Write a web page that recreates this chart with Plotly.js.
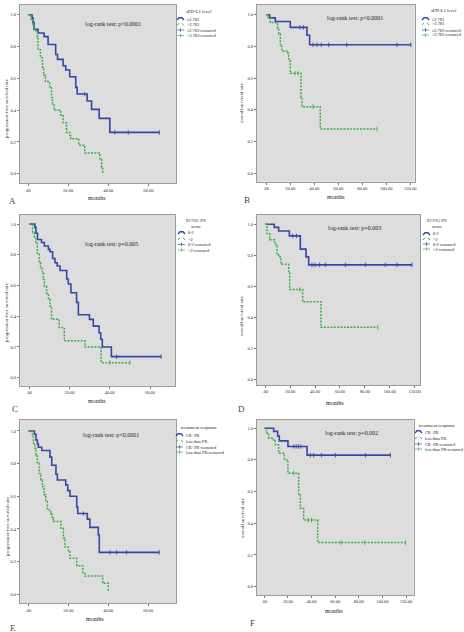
<!DOCTYPE html>
<html>
<head>
<meta charset="utf-8">
<script src="https://cdn.plot.ly/plotly-3.0.1.min.js"></script>
<style>
  html, body { margin: 0; padding: 0; background: #ffffff; }
  #chart { width: 464px; height: 632px; }
</style>
</head>
<body>
<div id="chart"></div>
<script>
// ---- Kaplan-Meier estimates (months, survival after each event) ----

// A: progression-free survival by sPD-L1 level
const pfsPdl1LowTime   = [2.0, 2.5, 3.0, 5.0, 8.0, 10.0, 13.8, 14.7, 17.5, 18.8, 20.8, 23.8, 24.5, 29.5, 31.7, 35.5, 40.8];
const pfsPdl1LowSurv   = [0.981, 0.950, 0.908, 0.885, 0.862, 0.813, 0.750, 0.719, 0.679, 0.652, 0.610, 0.543, 0.501, 0.457, 0.405, 0.348, 0.260];
const pfsPdl1LowCensor = [28.3, 43.3, 50.0, 65.5];
const pfsPdl1HighTime  = [1.5, 2.5, 3.0, 4.0, 4.7, 5.0, 6.2, 7.2, 7.8, 8.7, 10.8, 11.7, 12.2, 13.0, 16.3, 17.5, 19.2, 20.8, 21.3, 25.3, 28.3, 35.8, 36.7, 37.2];
const pfsPdl1HighSurv  = [0.97, 0.94, 0.91, 0.89, 0.86, 0.78, 0.73, 0.67, 0.62, 0.58, 0.54, 0.48, 0.44, 0.40, 0.37, 0.32, 0.26, 0.24, 0.22, 0.18, 0.13, 0.09, 0.04, 0.0];
const pfsPdl1HighCensor = [];

// B: overall survival by sPD-L1 level
const osPdl1LowTime    = [2.8, 7.5, 20.0, 33.9, 36.1];
const osPdl1LowSurv    = [0.98, 0.957, 0.92, 0.87, 0.81];
const osPdl1LowCensor  = [28.0, 31.0, 38.9, 42.2, 45.8, 52.0, 67.0, 109.0, 120.5];
const osPdl1HighTime   = [1.4, 3.3, 9.4, 10.3, 11.7, 13.0, 17.2, 18.6, 20.0, 28.9, 29.7, 45.0];
const osPdl1HighSurv   = [0.977, 0.95, 0.915, 0.88, 0.80, 0.77, 0.757, 0.72, 0.63, 0.48, 0.42, 0.28];
const osPdl1HighCensor = [24.0, 26.5, 39.0, 92.2];

// C: progression-free survival by ECOG PS score
const pfsEcogLowTime   = [2.8, 3.3, 4.1, 6.1, 7.5, 9.5, 10.3, 11.6, 12.8, 13.9, 15.3, 18.6, 19.4, 20.7, 23.5, 24.4, 29.9, 31.8, 34.7, 35.5, 36.3, 40.8];
const pfsEcogLowSurv   = [0.98, 0.94, 0.90, 0.88, 0.857, 0.835, 0.82, 0.776, 0.748, 0.727, 0.698, 0.642, 0.61, 0.553, 0.49, 0.41, 0.38, 0.336, 0.293, 0.25, 0.20, 0.137];
const pfsEcogLowCensor = [43.4, 65.5];
const pfsEcogHighTime  = [1.7, 2.5, 3.2, 4.0, 5.0, 5.6, 6.5, 7.0, 7.5, 8.6, 9.5, 10.3, 11.1, 14.9, 17.4, 27.7, 35.7];
const pfsEcogHighSurv  = [0.945, 0.91, 0.874, 0.81, 0.75, 0.71, 0.68, 0.64, 0.593, 0.55, 0.51, 0.465, 0.38, 0.327, 0.24, 0.20, 0.098];
const pfsEcogHighCensor = [40.0, 50.0];

// D: overall survival by ECOG PS score
const osEcogLowTime    = [7.2, 10.7, 19.3, 28.1, 32.7, 34.8];
const osEcogLowSurv    = [0.98, 0.957, 0.925, 0.84, 0.79, 0.738];
const osEcogLowCensor  = [22.0, 25.0, 37.5, 40.0, 43.4, 48.2, 64.3, 80.4, 96.4, 105.8, 117.9];
const osEcogHighTime   = [1.3, 3.5, 7.5, 9.4, 10.7, 12.6, 18.8, 19.6, 30.0, 44.7];
const osEcogHighSurv   = [0.94, 0.90, 0.87, 0.81, 0.79, 0.742, 0.688, 0.58, 0.50, 0.335];
const osEcogHighCensor = [27.5, 90.3];

// E: progression-free survival by treatment response
const pfsRespGoodTime   = [3.0, 3.8, 4.5, 5.0, 6.7, 10.8, 11.7, 13.8, 14.5, 18.7, 19.7, 20.8, 24.2, 24.7, 29.5, 30.8, 35.0, 35.5];
const pfsRespGoodSurv   = [0.98, 0.945, 0.92, 0.90, 0.88, 0.84, 0.79, 0.735, 0.70, 0.67, 0.635, 0.60, 0.535, 0.495, 0.46, 0.41, 0.363, 0.257];
const pfsRespGoodCensor = [27.5, 40.8, 44.2, 49.2, 65.5];
const pfsRespPoorTime   = [2.0, 2.5, 3.2, 3.8, 4.5, 5.5, 6.2, 7.0, 7.8, 8.7, 9.5, 11.2, 12.0, 12.5, 16.3, 17.5, 18.3, 20.0, 20.8, 24.2, 27.2, 28.3, 37.2, 40.0];
const pfsRespPoorSurv   = [0.965, 0.925, 0.894, 0.853, 0.80, 0.74, 0.70, 0.66, 0.61, 0.567, 0.516, 0.49, 0.465, 0.445, 0.404, 0.343, 0.29, 0.26, 0.22, 0.175, 0.128, 0.112, 0.067, 0.016];
const pfsRespPoorCensor = [];

// F: overall survival by treatment response
const osRespGoodTime    = [7.9, 11.3, 12.7, 20.0, 36.2];
const osRespGoodSurv    = [0.98, 0.95, 0.92, 0.885, 0.83];
const osRespGoodCensor  = [25.0, 27.0, 29.0, 31.0, 39.0, 41.8, 48.3, 60.2, 85.6, 106.8];
const osRespPoorTime    = [1.7, 3.7, 7.9, 9.3, 12.1, 16.9, 19.2, 20.0, 29.1, 30.5, 33.3, 45.2];
const osRespPoorSurv    = [0.97, 0.937, 0.926, 0.895, 0.842, 0.80, 0.79, 0.716, 0.585, 0.495, 0.42, 0.278];
const osRespPoorCensor  = [25.0, 37.0, 40.0, 65.0, 85.0, 119.5];

// ---- tick labels ----
const monthTicksShort = [0, 20, 40, 60];
const monthLabelsShort = ['.00', '20.00', '40.00', '60.00'];
const monthTicksLong = [0, 20, 40, 60, 80, 100, 120];
const monthLabelsLong = ['.00', '20.00', '40.00', '60.00', '80.00', '100.00', '120.00'];
const survTicks = [0, 0.2, 0.4, 0.6, 0.8, 1.0];
const survLabels = ['0.0', '0.2', '0.4', '0.6', '0.8', '1.0'];

// ---- text ----
const pfsTitle = 'progression-free survival rate';
const osTitle = 'overall survival rate';
const pdl1Groups = ['≤2.783', '>2.783', '≤2.783-censored', '>2.783-censored'];
const ecogGroups = ['0-2', '>2', '0-2-censored', '>2-censored'];
const respGroups = ['CR+PR', 'less than PR', 'CR+PR-censored', 'less than PR-censored'];

// ---- styling & geometry ----
const W = 464, H = 632;
const px = x => x / W;
const py = y => 1 - y / H;
const BLUE = '#3447a6';
const GREEN = '#3fae47';
const GREEN_DASH = '2px,1.3px';
const SERIF = 'Liberation Serif, Times New Roman, serif';

const panels = [
  { letter: 'A', box: [20, 176, 5, 183.3], xr: [-4, 73.8], yr: [-0.06, 1.061], long: false,
    a: [pfsPdl1LowTime, pfsPdl1LowSurv, pfsPdl1LowCensor], b: [pfsPdl1HighTime, pfsPdl1HighSurv, pfsPdl1HighCensor],
    ytitle: pfsTitle, ytPos: [6, 108], xtPos: [97, 198], letterPos: [12, 201],
    pText: 'log-rank test: p<0.0001', pPos: [113, 24],
    legTitle: ['sPD-L1 level'], legTitlePos: [199, 12], groups: pdl1Groups, legX: 177, legY: [19, 24.5, 30, 35.5] },
  { letter: 'B', box: [257, 414.7, 5, 181.7], xr: [-7.75, 123.7], yr: [-0.053, 1.061], long: true,
    a: [osPdl1LowTime, osPdl1LowSurv, osPdl1LowCensor], b: [osPdl1HighTime, osPdl1HighSurv, osPdl1HighCensor],
    ytitle: osTitle, ytPos: [242, 103], xtPos: [336, 197], letterPos: [247, 200],
    pText: 'log-rank test: p<0.0001', pPos: [355, 18],
    legTitle: ['sPD-L1 level'], legTitlePos: [444, 11], groups: pdl1Groups, legX: 422, legY: [19, 24, 30, 35] },
  { letter: 'C', box: [20, 175, 215, 385.7], xr: [-4.6, 72.4], yr: [-0.052, 1.059], long: false,
    a: [pfsEcogLowTime, pfsEcogLowSurv, pfsEcogLowCensor], b: [pfsEcogHighTime, pfsEcogHighSurv, pfsEcogHighCensor],
    ytitle: pfsTitle, ytPos: [6, 312], xtPos: [97, 401], letterPos: [15, 409],
    pText: 'log-rank test: p=0.005', pPos: [111, 244],
    legTitle: ['ECOG PS', 'score'], legTitlePos: [196, 221], groups: ecogGroups, legX: 178, legY: [233, 239, 244.5, 250] },
  { letter: 'D', box: [257, 420, 215, 385], xr: [-6.7, 124.3], yr: [-0.037, 1.06], long: true,
    a: [osEcogLowTime, osEcogLowSurv, osEcogLowCensor], b: [osEcogHighTime, osEcogHighSurv, osEcogHighCensor],
    ytitle: osTitle, ytPos: [241, 316], xtPos: [335, 403], letterPos: [241, 409],
    pText: 'log-rank test: p=0.003', pPos: [354, 228],
    legTitle: ['ECOG PS', 'score'], legTitlePos: [437, 221], groups: ecogGroups, legX: 423, legY: [234, 239, 244, 249] },
  { letter: 'E', box: [20, 176, 420, 603.3], xr: [-4.2, 73.9], yr: [-0.055, 1.067], long: false,
    a: [pfsRespGoodTime, pfsRespGoodSurv, pfsRespGoodCensor], b: [pfsRespPoorTime, pfsRespPoorSurv, pfsRespPoorCensor],
    ytitle: pfsTitle, ytPos: [7, 526], xtPos: [95, 619], letterPos: [13, 628],
    pText: 'log-rank test: p<0.0001', pPos: [111, 435],
    legTitle: ['treatment response'], legTitlePos: [199, 428], groups: respGroups, legX: 176, legY: [435, 441, 447, 452] },
  { letter: 'F', box: [257, 413.7, 420, 595], xr: [-6.2, 126.5], yr: [-0.053, 1.052], long: true,
    a: [osRespGoodTime, osRespGoodSurv, osRespGoodCensor], b: [osRespPoorTime, osRespPoorSurv, osRespPoorCensor],
    ytitle: osTitle, ytPos: [242, 518], xtPos: [334, 611], letterPos: [253, 623],
    pText: 'log-rank test: p=0.002', pPos: [351, 433],
    legTitle: ['treatment response'], legTitlePos: [437, 425], groups: respGroups, legX: 415, legY: [432, 438, 444, 449] }
];

function survivalAt(times, surv, t) {
  let v = 1;
  for (let i = 0; i < times.length; i++) if (times[i] <= t) v = surv[i];
  return v;
}

function kmTraces(series, color, dash, xa, ya) {
  const [times, surv, cens] = series;
  const x = [0].concat(times);
  const y = [1].concat(surv);
  const lastCens = cens.length ? Math.max(...cens) : -Infinity;
  if (lastCens > times[times.length - 1]) { x.push(lastCens); y.push(surv[surv.length - 1]); }
  const out = [{
    type: 'scatter', mode: 'lines', x, y, xaxis: xa, yaxis: ya, hoverinfo: 'skip',
    line: { shape: 'hv', color, width: dash === 'solid' ? 1.6 : 1.5, dash }, showlegend: false
  }];
  if (cens.length) {
    out.push({
      type: 'scatter', mode: 'markers', x: cens, y: cens.map(c => survivalAt(times, surv, c)),
      xaxis: xa, yaxis: ya, hoverinfo: 'skip', showlegend: false,
      marker: { symbol: 'line-ns-open', size: 3.2, color, line: { color, width: 0.9 } }
    });
  }
  return out;
}

const traces = [];
const layout = {
  width: W, height: H, autosize: false,
  margin: { l: 0, r: 0, t: 0, b: 0 },
  paper_bgcolor: '#ffffff', showlegend: false,
  annotations: [], shapes: []
};

function note(text, x, y, size, opts) {
  layout.annotations.push(Object.assign({
    text, x: px(x), y: py(y), xref: 'paper', yref: 'paper', showarrow: false,
    xanchor: 'center', yanchor: 'middle', font: { family: SERIF, size, color: '#222' }
  }, opts || {}));
}

panels.forEach((p, i) => {
  const n = i + 1;
  const xa = 'x' + (n === 1 ? '' : n), ya = 'y' + (n === 1 ? '' : n);
  const xkey = 'xaxis' + (n === 1 ? '' : n), ykey = 'yaxis' + (n === 1 ? '' : n);
  const [x0, x1, yt, yb] = p.box;
  const common = {
    showline: true, mirror: true, linecolor: '#9c9c9c', linewidth: 1,
    ticks: 'outside', ticklen: 2, tickwidth: 0.8, tickcolor: '#555',
    showgrid: false, zeroline: false, fixedrange: true,
    tickfont: { family: SERIF, size: 4.5, color: '#333' }
  };
  layout[xkey] = Object.assign({}, common, {
    domain: [px(x0), px(x1)], range: p.xr, anchor: ya,
    tickvals: p.long ? monthTicksLong : monthTicksShort,
    ticktext: p.long ? monthLabelsLong : monthLabelsShort
  });
  layout[ykey] = Object.assign({}, common, {
    domain: [py(yb), py(yt)], range: p.yr, anchor: xa,
    tickvals: survTicks, ticktext: survLabels
  });
  // grey plotting area
  layout.shapes.push({ type: 'rect', xref: 'paper', yref: 'paper', layer: 'below',
    x0: px(x0), x1: px(x1), y0: py(yb), y1: py(yt), fillcolor: '#dddddd', line: { width: 0 } });

  traces.push(...kmTraces(p.a, BLUE, 'solid', xa, ya));
  traces.push(...kmTraces(p.b, GREEN, GREEN_DASH, xa, ya));

  note(p.ytitle, p.ytPos[0], p.ytPos[1], 5, { textangle: -90 });
  note('months', p.xtPos[0], p.xtPos[1], 6);
  note(p.letter, p.letterPos[0], p.letterPos[1], 9, { font: { family: SERIF, size: 9, color: '#444' } });
  note(p.pText, p.pPos[0], p.pPos[1], 6);

  // legend block
  p.legTitle.forEach((t, k) => note(t, p.legTitlePos[0], p.legTitlePos[1] + k * 5.5, 4.8));
  p.groups.forEach((g, k) => {
    const y = p.legY[k];
    const gx = p.legX;
    const color = k % 2 === 0 ? BLUE : GREEN;
    if (k < 2) {
      const path = `M ${px(gx)} ${py(y + 1)} L ${px(gx + 2)} ${py(y - 1.2)} L ${px(gx + 5)} ${py(y - 1.2)} L ${px(gx + 7)} ${py(y + 1)}`;
      layout.shapes.push({ type: 'path', xref: 'paper', yref: 'paper', path,
        line: { color, width: k === 0 ? 1.4 : 1, dash: k === 0 ? 'solid' : 'dot' } });
    } else {
      layout.shapes.push({ type: 'line', xref: 'paper', yref: 'paper',
        x0: px(gx), x1: px(gx + 7), y0: py(y), y1: py(y), line: { color, width: 0.7 } });
      layout.shapes.push({ type: 'line', xref: 'paper', yref: 'paper',
        x0: px(gx + 3.5), x1: px(gx + 3.5), y0: py(y - 1.8), y1: py(y + 1.8), line: { color, width: 0.7 } });
    }
    note(g, gx + 8, y, 4.3, { xanchor: 'left' });
  });
});

Plotly.newPlot('chart', traces, layout, { staticPlot: true, displayModeBar: false });
</script>
</body>
</html>
